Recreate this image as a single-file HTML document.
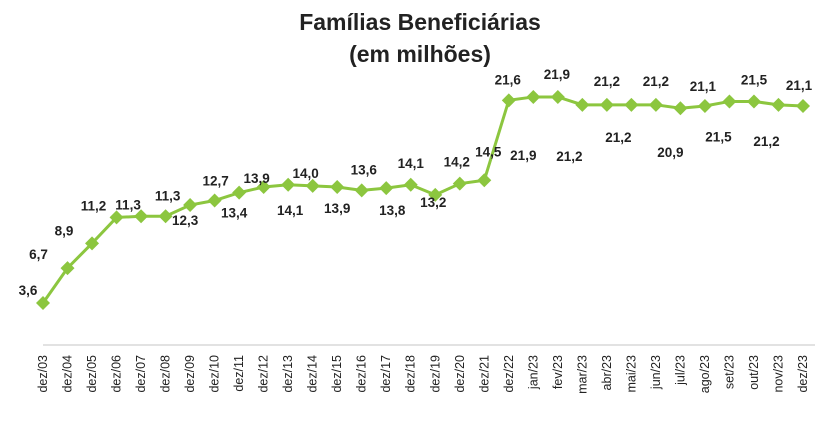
<!DOCTYPE html>
<html><head><meta charset="utf-8">
<style>
html,body{margin:0;padding:0;background:#fff;}
svg{display:block;font-family:"Liberation Sans",sans-serif;}
</style></head>
<body>
<svg id="chart" width="822" height="427" viewBox="0 0 822 427">
  <text x="420" y="30" text-anchor="middle" font-size="23" font-weight="bold" fill="#222">Famílias Beneficiárias</text>
  <text x="420" y="62" text-anchor="middle" font-size="23" font-weight="bold" fill="#222">(em milhões)</text>
  <line x1="43" y1="345" x2="815" y2="345" stroke="#d9d9d9" stroke-width="1.5"/>
  <g id="ticks"></g><g id="series"></g><g id="labels"></g>
</svg>
<script>
const categories = ["dez/03","dez/04","dez/05","dez/06","dez/07","dez/08","dez/09","dez/10","dez/11","dez/12","dez/13","dez/14","dez/15","dez/16","dez/17","dez/18","dez/19","dez/20","dez/21","dez/22","jan/23","fev/23","mar/23","abr/23","mai/23","jun/23","jul/23","ago/23","set/23","out/23","nov/23","dez/23"];
const values = [3.6,6.7,8.9,11.2,11.3,11.3,12.3,12.7,13.4,13.9,14.1,14.0,13.9,13.6,13.8,14.1,13.2,14.2,14.5,21.6,21.9,21.9,21.2,21.2,21.2,21.2,20.9,21.1,21.5,21.5,21.2,21.1];
const printed = ["3,6","6,7","8,9","11,2","11,3","11,3","12,3","12,7","13,4","13,9","14,1","14,0","13,9","13,6","13,8","14,1","13,2","14,2","14,5","21,6","21,9","21,9","21,2","21,2","21,2","21,2","20,9","21,1","21,5","21,5","21,2","21,1"];
const labelDx = [-15,-29,-28,-23,-13,2,-5,1,-5,-7,2,-7,0,2,6,0,-2,-3,4,-1,-10,-1,-13,0,-13,0,-10,-2,-11,0,-12,-4];
const labelDy = [-13,-14,-13,-12,-12,-21,15,-20,20,-9,25,-13,21,-21,22,-22,7,-22,-29,-21,58,-23,51,-24,32,-24,44,-20,35,-22,36,-21];

const NS="http://www.w3.org/2000/svg";
const x = i => 43 + i*(803-43)/(categories.length-1);
const y = v => 303 - (v-3.6)*11.26;
const mk=(t,a)=>{const e=document.createElementNS(NS,t);for(const k in a)e.setAttribute(k,a[k]);return e;};
const ticks=document.getElementById('ticks'),series=document.getElementById('series'),labels=document.getElementById('labels');

categories.forEach((c,i)=>{
  const t=mk('text',{x:x(i)+4,y:355,'font-size':'12.5',fill:'#222','text-anchor':'end',transform:`rotate(-90 ${x(i)+4} 355)`});
  
  
  t.textContent=c;ticks.appendChild(t);
});
const pts=values.map((v,i)=>x(i)+','+y(v)).join(' ');
const line=mk('polyline',{points:pts,fill:'none',stroke:'#8cc63f','stroke-width':'3'});


series.appendChild(line);
values.forEach((v,i)=>{
  const cx=x(i),cy=y(v),r=7;
  const d=mk('polygon',{points:`${cx},${cy-r} ${cx+r},${cy} ${cx},${cy+r} ${cx-r},${cy}`,fill:'#8cc63f'});
  
  
  series.appendChild(d);
  const t=mk('text',{x:cx+labelDx[i],y:cy+labelDy[i]+5,'font-size':'13.5','font-weight':'bold',fill:'#222','text-anchor':'middle'});
  
  
  t.textContent=printed[i];labels.appendChild(t);
});
</script>
</body></html>
